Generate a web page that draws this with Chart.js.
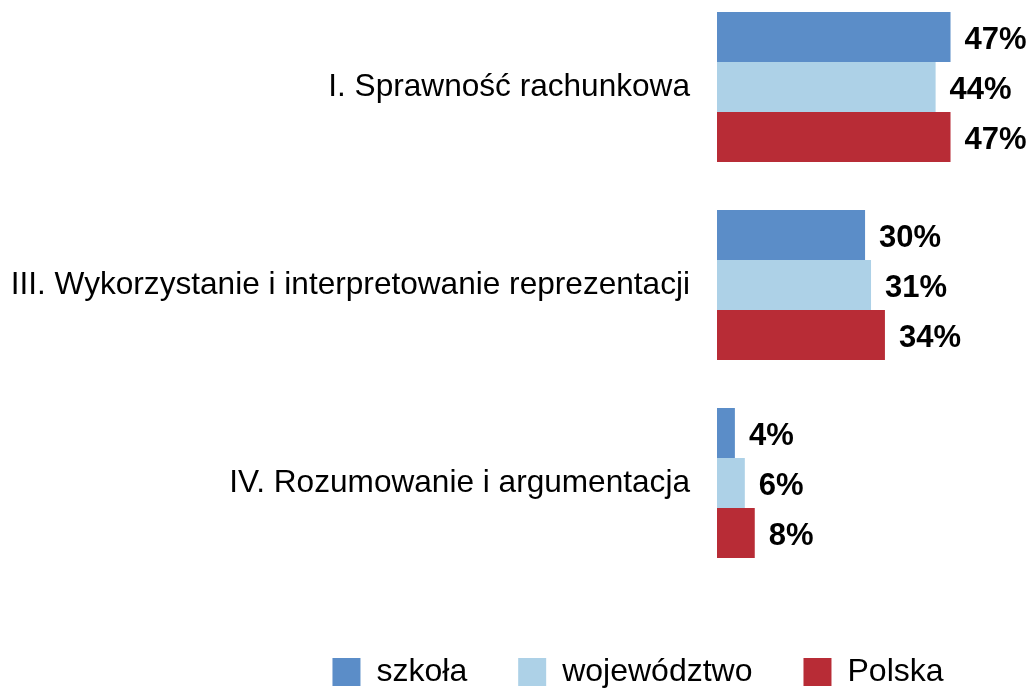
<!DOCTYPE html>
<html>
<head>
<meta charset="utf-8">
<script src="https://cdn.jsdelivr.net/npm/chart.js@4/dist/chart.umd.min.js"></script>
<style>
  body { margin: 0; background: #fff; overflow: hidden; }
  #wrap { position: relative; width: 1033px; height: 688px; overflow: hidden; }
  #chart { position: absolute; left: 0; top: -12px; }
</style>
</head>
<body>
<div id="wrap">
  <canvas id="chart" width="1033" height="700"></canvas>
</div>
<script>
const kategorie = [
    "I. Sprawność rachunkowa",
    "III. Wykorzystanie i interpretowanie reprezentacji",
    "IV. Rozumowanie i argumentacja"
];

const serie = ["szkoła", "województwo", "Polska"];

const szkola = [47, 29.8, 3.6];
const wojewodztwo = [44, 31, 5.6];
const polska = [47, 33.8, 7.6];

const kolory = ["#5B8DC8", "#ADD1E7", "#B82C36"];

const FONT = "'Liberation Sans', Arial, sans-serif";

// podpisy wartości przy słupkach
const etykiety = {
    id: "etykiety",
    afterDatasetsDraw(chart) {
        const ctx = chart.ctx;
        ctx.save();
        ctx.font = "bold 31px " + FONT;
        ctx.fillStyle = "#000";
        ctx.textAlign = "left";
        ctx.textBaseline = "middle";
        chart.data.datasets.forEach((ds, i) => {
            const meta = chart.getDatasetMeta(i);
            meta.data.forEach((bar, j) => {
                ctx.fillText(
                    Math.round(ds.data[j]) + "%",
                    bar.x + 14,
                    bar.y + 3
                );
            });
        });
        ctx.restore();
    }
};

// przesunięcie legendy pod wykresem
const legendaPoz = {
    id: "legendaPoz",
    afterLayout(chart) {
        const lg = chart.legend;
        if (!lg) return;
        lg.left = 243;
        lg.top += 23;
        lg.bottom += 23;
    }
};

const wartosci = [szkola, wojewodztwo, polska];

new Chart(
    document.getElementById("chart"),
    {
        type: "bar",
        data: {
            labels: kategorie,
            datasets: serie.map((nazwa, i) => ({
                label: nazwa,
                data: wartosci[i],
                backgroundColor: kolory[i],
                borderWidth: 0,
                categoryPercentage: 0.7576,
                barPercentage: 1
            }))
        },
        options: {
            indexAxis: "y",
            responsive: false,
            animation: false,
            layout: {
                padding: { left: 0, right: 0, top: 0, bottom: 13 }
            },
            plugins: {
                tooltip: { enabled: false },
                legend: {
                    position: "bottom",
                    align: "center",
                    labels: {
                        boxWidth: 28,
                        boxHeight: 28,
                        padding: 51,
                        color: "#000",
                        font: { family: FONT, size: 32 }
                    }
                }
            },
            scales: {
                x: {
                    display: false,
                    min: 0,
                    max: 63.6
                },
                y: {
                    grid: { display: false, drawTicks: false },
                    border: { display: false },
                    ticks: {
                        color: "#000",
                        padding: 27,
                        font: { family: FONT, size: 31.6 }
                    },
                    afterFit(scale) {
                        scale.width = 717;
                        scale.paddingTop = 0;
                        scale.paddingBottom = 0;
                    }
                }
            }
        },
        plugins: [etykiety, legendaPoz]
    }
);
</script>
</body>
</html>
